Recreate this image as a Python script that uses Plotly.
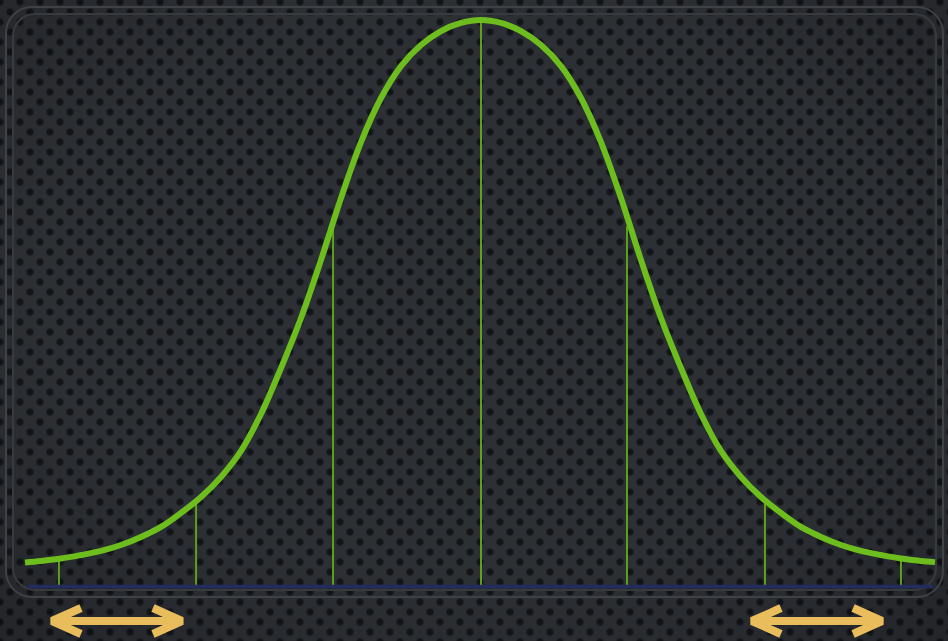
import base64
import plotly.graph_objects as go

# ---- data (x in sigma units, y in density units) ----
curve_x = [-3.2456, -3.1317, -2.9893, -2.8470, -2.7046, -2.5623, -2.4199, -2.2776,
           -2.1352, -1.9929, -1.8505, -1.7082, -1.5658, -1.4235, -1.2811, -1.1388,
           -0.9964, -0.8541, -0.7117, -0.5694, -0.4270, -0.2847, -0.1423, 0.0,
           0.1423, 0.2847, 0.4270, 0.5694, 0.7117, 0.8541, 0.9964, 1.1388, 1.2811,
           1.4235, 1.5658, 1.7082, 1.8505, 1.9929, 2.1352, 2.2776, 2.4199, 2.5623,
           2.7046, 2.8470, 2.9893, 3.1317, 3.2313]
curve_y = [0.0159, 0.0170, 0.0187, 0.0212, 0.0241, 0.0283, 0.0340, 0.0411,
           0.0510, 0.0623, 0.0765, 0.0949, 0.1211, 0.1536, 0.1890, 0.2301,
           0.2740, 0.3136, 0.3448, 0.3674, 0.3823, 0.3922, 0.3979, 0.4000,
           0.3979, 0.3922, 0.3823, 0.3674, 0.3448, 0.3136, 0.2740, 0.2301, 0.1890,
           0.1536, 0.1211, 0.0949, 0.0765, 0.0623, 0.0510, 0.0411, 0.0340, 0.0283,
           0.0241, 0.0212, 0.0187, 0.0170, 0.0162]

sigma_x = [-3.004, -2.028, -1.053, 0.0, 1.039, 2.021, 2.989]
sigma_top = [0.0184, 0.0600, 0.2540, 0.4000, 0.2540, 0.0600, 0.0180]

baseline_x = [-3.225, 3.217]
arrow_ranges = [[-3.082, -2.100], [1.900, 2.883]]
arrow_y = -0.0255

# ---- styling ----
W, H = 948, 641
PX_X = 140.5      # pixels per sigma
PX_Y = 1412.5     # pixels per density unit
X0, Y0 = 481, 585

GREEN = "#6dbd1f"
GREEN_LINE = "#5e9f1c"
ORANGE = "#e9bd5c"
BLUE = "#222c5e"

svg = f'''<svg xmlns="http://www.w3.org/2000/svg" width="{W}" height="{H}" viewBox="0 0 {W} {H}">
<defs>
<radialGradient id="d" cx="0.5" cy="0.5" r="0.5">
<stop offset="0" stop-color="#0f1114"/>
<stop offset="0.55" stop-color="#15171b"/>
<stop offset="1" stop-color="#2c2f34" stop-opacity="0"/>
</radialGradient>
<pattern id="p" x="5" y="7" width="20" height="20" patternUnits="userSpaceOnUse">
<rect width="20" height="20" fill="#2c2f34"/>
<circle cx="5" cy="5" r="5.2" fill="url(#d)"/>
<circle cx="15" cy="15" r="5.2" fill="url(#d)"/>
</pattern>
<linearGradient id="gt" x1="0" x2="1" y1="0" y2="0">
<stop offset="0" stop-color="#777" stop-opacity="0.2"/>
<stop offset="0.3" stop-color="#999"/>
<stop offset="0.5" stop-color="#b0b0b0"/>
<stop offset="0.7" stop-color="#999"/>
<stop offset="1" stop-color="#777" stop-opacity="0.2"/>
</linearGradient>
<linearGradient id="gb" x1="0" x2="1" y1="0" y2="0">
<stop offset="0" stop-color="#666" stop-opacity="0.3"/>
<stop offset="0.2" stop-color="#7c7c7c"/>
<stop offset="0.5" stop-color="#8c8c8c"/>
<stop offset="0.8" stop-color="#7c7c7c"/>
<stop offset="1" stop-color="#666" stop-opacity="0.3"/>
</linearGradient>
<radialGradient id="v" cx="0.5" cy="0.45" r="0.75">
<stop offset="0.6" stop-color="#000" stop-opacity="0"/>
<stop offset="1" stop-color="#000" stop-opacity="0.22"/>
</radialGradient>
</defs>
<rect width="{W}" height="{H}" fill="url(#p)"/>
<rect width="{W}" height="{H}" fill="url(#v)"/>
<rect x="6" y="7" width="937" height="590" rx="26" fill="none" stroke="#3e4146" stroke-width="2"/>
<rect x="13" y="14" width="923" height="576" rx="22" fill="none" stroke="#373a3f" stroke-width="2"/>
<line x1="30" y1="7" x2="918" y2="7" stroke="url(#gt)" stroke-width="2.5"/>
<line x1="34" y1="14" x2="914" y2="14" stroke="url(#gt)" stroke-width="2.5"/>
<line x1="30" y1="597" x2="918" y2="597" stroke="url(#gb)" stroke-width="2.5"/>
<line x1="34" y1="590" x2="914" y2="590" stroke="url(#gb)" stroke-width="2.5"/>
</svg>'''
bg_uri = "data:image/svg+xml;base64," + base64.b64encode(svg.encode()).decode()

fig = go.Figure()

# sigma marker lines
lx, ly = [], []
for sx, top in zip(sigma_x, sigma_top):
    lx += [sx, sx, None]
    ly += [0.0, top, None]
fig.add_trace(go.Scatter(x=lx, y=ly, mode="lines",
                         line=dict(color=GREEN_LINE, width=2),
                         hoverinfo="skip", showlegend=False))

# baseline
fig.add_trace(go.Scatter(x=baseline_x, y=[-0.001, -0.001], mode="lines",
                         line=dict(color=BLUE, width=3.5),
                         hoverinfo="skip", showlegend=False))

# bell curve
fig.add_trace(go.Scatter(x=curve_x, y=curve_y, mode="lines",
                         line=dict(color=GREEN, width=6, shape="spline", smoothing=1.0),
                         hoverinfo="skip", showlegend=False))

# double-headed arrows under the tails
arm_dx = 29 / PX_X
arm_dy = 13 / PX_Y
inset = 4 / PX_X
for a, b in arrow_ranges:
    ta, tb = a + inset, b - inset
    ax_ = [ta, tb, None,
           ta + arm_dx, ta, ta + arm_dx, None,
           tb - arm_dx, tb, tb - arm_dx]
    ay_ = [arrow_y, arrow_y, None,
           arrow_y + arm_dy, arrow_y, arrow_y - arm_dy, None,
           arrow_y + arm_dy, arrow_y, arrow_y - arm_dy]
    fig.add_trace(go.Scatter(x=ax_, y=ay_, mode="lines",
                             line=dict(color=ORANGE, width=8),
                             hoverinfo="skip", showlegend=False))

fig.update_layout(
    width=W, height=H,
    margin=dict(l=0, r=0, t=0, b=0),
    paper_bgcolor="#26282c",
    plot_bgcolor="rgba(0,0,0,0)",
    images=[dict(source=bg_uri, xref="paper", yref="paper", x=0, y=1,
                 sizex=1, sizey=1, xanchor="left", yanchor="top",
                 sizing="stretch", layer="below")],
    xaxis=dict(range=[-X0 / PX_X, (W - X0) / PX_X], visible=False, fixedrange=True),
    yaxis=dict(range=[-(H - Y0) / PX_Y, Y0 / PX_Y], visible=False, fixedrange=True),
    showlegend=False,
)

fig.write_html("out.html", config={"displayModeBar": False},
               post_script="document.body.style.margin='0';document.body.style.overflow='hidden';")
